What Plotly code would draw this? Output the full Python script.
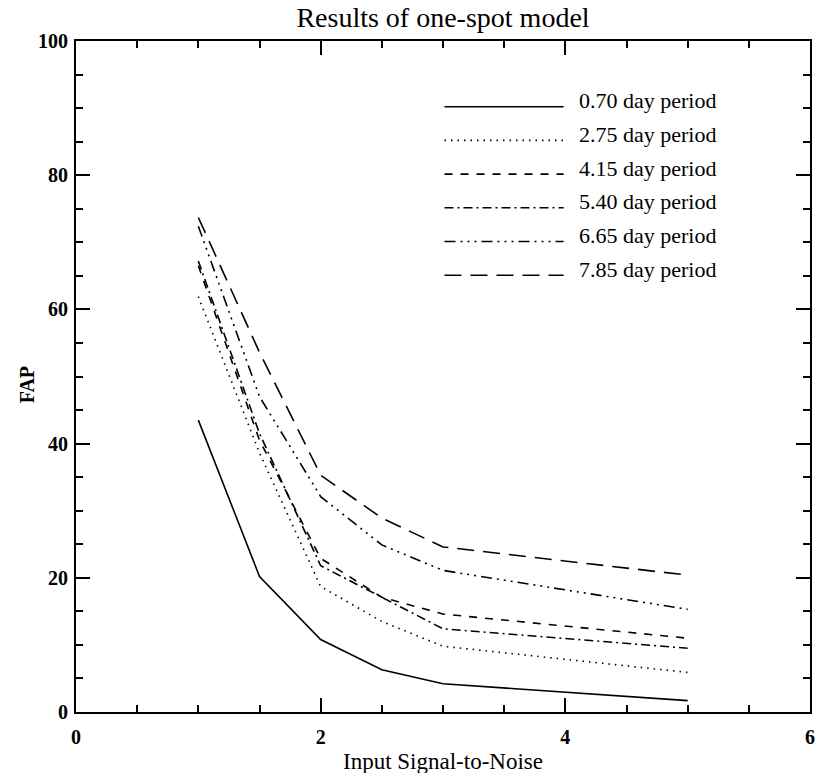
import plotly.graph_objects as go

# ---- data ----
snr = [1, 1.5, 2, 2.5, 3, 5]
fap_070 = [43.5, 20.2, 10.8, 6.3, 4.2, 1.7]
fap_275 = [61.9, 38.6, 18.7, 13.5, 9.8, 5.9]
fap_415 = [66.5, 40.5, 22.9, 17.1, 14.6, 11.0]
fap_540 = [67.2, 41.5, 21.8, 17.1, 12.4, 9.5]
fap_665 = [72.4, 47.0, 32.1, 24.9, 21.1, 15.3]
fap_785 = [73.7, 53.6, 35.3, 28.9, 24.6, 20.4]
labels = ["0.70 day period", "2.75 day period", "4.15 day period",
          "5.40 day period", "6.65 day period", "7.85 day period"]
series = [fap_070, fap_275, fap_415, fap_540, fap_665, fap_785]
dashes = ["solid", "1.5px,5px", "8px,8px", "9px,4px,2px,4px",
          "11px,5px,2px,5px,2px,5px,2px,5px", "17px,9px"]

W, H = 822, 773
L, R, T, B = 76, 7, 41, 61
pw, ph = W - L - R, H - T - B
SERIF = "Liberation Serif"

fig = go.Figure()
for ys, lab, d in zip(series, labels, dashes):
    fig.add_trace(go.Scatter(x=snr, y=ys, mode="lines", name=lab,
                             line=dict(color="black", width=1.6, dash=d),
                             showlegend=False))

# manual IDL-style legend (paper coordinates)
shapes = []
annotations = []
x0p = (447 - L) / pw
x1p = (567 - L) / pw
xtp = (580 - L) / pw
for i, (lab, d) in enumerate(zip(labels, dashes)):
    ypix = 106.7 + 33.7 * i
    yp = (H - B - ypix) / ph
    shapes.append(dict(type="line", xref="paper", yref="paper",
                       x0=x0p, x1=x1p, y0=yp, y1=yp,
                       line=dict(color="black", width=1.6, dash=d)))
    annotations.append(dict(xref="paper", yref="paper", x=xtp,
                            y=(H - B - (ypix - 6)) / ph,
                            text=lab, showarrow=False, xanchor="left",
                            yanchor="middle",
                            font=dict(family=SERIF, size=22, color="black")))

annotations.append(dict(xref="paper", yref="paper", x=0.5,
                        y=(H - B - 762) / ph, text="Input Signal-to-Noise",
                        showarrow=False, xanchor="center", yanchor="middle",
                        font=dict(family=SERIF, size=23, color="black")))
annotations.append(dict(xref="paper", yref="paper", x=(27 - L) / pw,
                        y=(H - B - 385) / ph, text="<b>FAP</b>",
                        textangle=-90, showarrow=False, xanchor="center",
                        yanchor="middle",
                        font=dict(family=SERIF, size=20, color="black")))

axis_common = dict(showgrid=False, zeroline=False, showline=True,
                   linecolor="black", linewidth=2, mirror="allticks",
                   ticks="inside", ticklen=14, tickwidth=1.5,
                   tickcolor="black",
                   tickfont=dict(family=SERIF, size=20, color="black",
                                 weight="bold"))

fig.update_layout(
    width=W, height=H,
    margin=dict(l=L, r=R, t=T, b=B),
    paper_bgcolor="white", plot_bgcolor="white",
    title=dict(text="Results of one-spot model", x=0.5, xref="paper",
               y=1 - 17 / H, yref="container", xanchor="center",
               yanchor="middle",
               font=dict(family=SERIF, size=28, color="black")),
    xaxis=dict(range=[0, 6], tickmode="array", tickvals=[0, 2, 4, 6],
               ticktext=["0", "2", "4", "6"], ticklabelstandoff=6,
               minor=dict(dtick=0.5, ticklen=7, ticks="inside",
                          tickcolor="black", tickwidth=1.5),
               **axis_common),
    yaxis=dict(range=[0, 100], tickmode="array",
               tickvals=[0, 20, 40, 60, 80, 100], ticklabelstandoff=2,
               minor=dict(dtick=5, ticklen=7, ticks="inside",
                          tickcolor="black", tickwidth=1.5),
               **axis_common),
    shapes=shapes, annotations=annotations,
)

fig.write_html("out.html")
